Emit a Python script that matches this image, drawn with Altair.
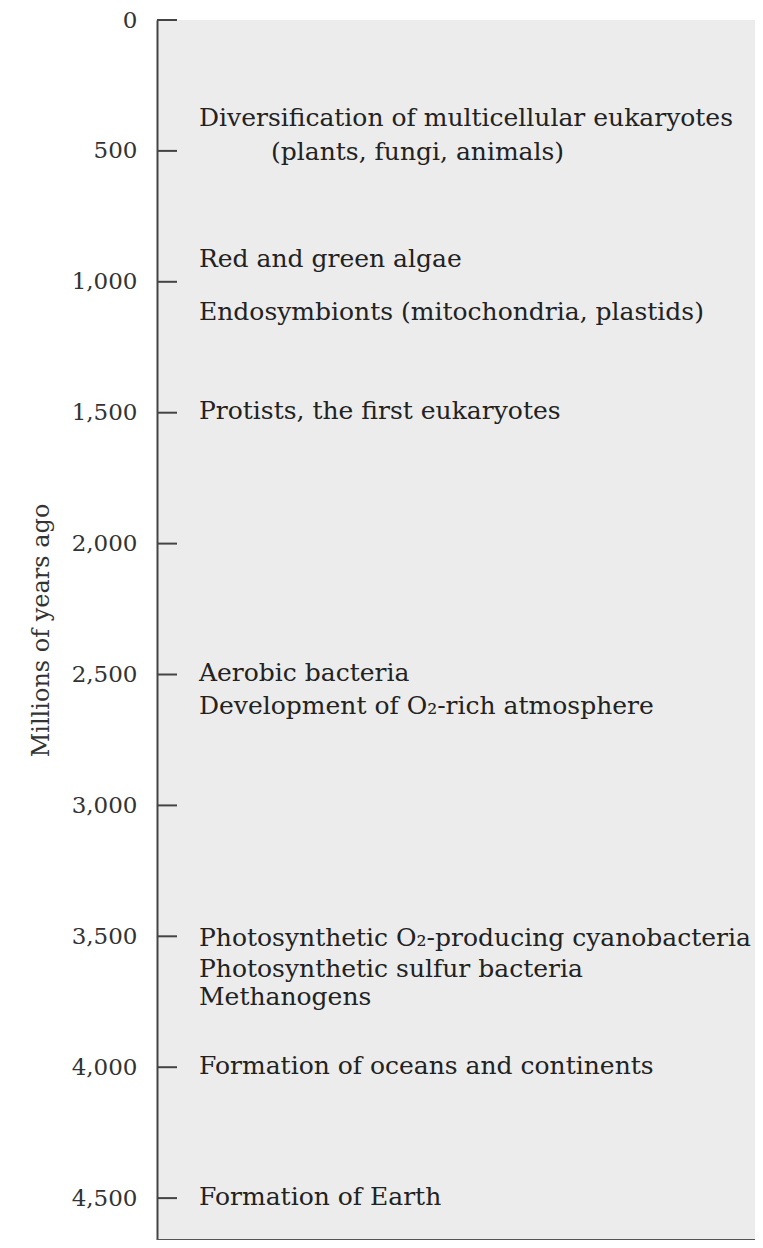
import altair as alt
import pandas as pd

# --- data -----------------------------------------------------------------
event_labels = [
    "Diversification of multicellular eukaryotes",
    "(plants, fungi, animals)",
    "Red and green algae",
    "Endosymbionts (mitochondria, plastids)",
    "Protists, the first eukaryotes",
    "Aerobic bacteria",
    "Development of O\u2082-rich atmosphere",
    "Photosynthetic O\u2082-producing cyanobacteria",
    "Photosynthetic sulfur bacteria",
    "Methanogens",
    "Formation of oceans and continents",
    "Formation of Earth",
]
event_mya = [375, 503, 911, 1117, 1495, 2494, 2620, 3505, 3623, 3733, 3997, 4496]
event_indent = [0, 72, 0, 0, 0, 0, 0, 0, 0, 0, 0, 0]

tick_values = [0, 500, 1000, 1500, 2000, 2500, 3000, 3500, 4000, 4500]
Y_MAX = 4660

events = pd.DataFrame({"label": event_labels, "mya": event_mya, "indent": event_indent})
ticks = pd.DataFrame({"mya": tick_values})

FONT = "DejaVu Serif"
W, H = 598, 1220

yscale = alt.Scale(domain=[0, Y_MAX], nice=False, zero=False, reverse=True)

base_axis = alt.Axis(
    values=tick_values,
    format=",d",
    title="Millions of years ago",
    titleFont=FONT,
    titleFontSize=24,
    titleFontWeight="normal",
    titleColor="#333",
    titlePadding=18,
    labelFont=FONT,
    labelFontSize=23,
    labelColor="#333",
    labelPadding=20,
    tickSize=0,
    ticks=False,
    grid=False,
    domain=True,
    domainColor="#444",
    domainWidth=2,
)

tick_rules = (
    alt.Chart(ticks)
    .mark_rule(color="#444", strokeWidth=2)
    .encode(
        y=alt.Y("mya:Q", scale=yscale, axis=base_axis),
        x=alt.value(0),
        x2=alt.value(20),
    )
)

bottom = (
    alt.Chart(ticks)
    .mark_rule(color="#555", strokeWidth=2)
    .encode(y=alt.datum(Y_MAX))
)

texts = (
    alt.Chart(events)
    .mark_text(
        align="left",
        baseline="middle",
        font=FONT,
        fontSize=25,
        color="#222",
        dx=42,
    )
    .encode(
        y=alt.Y("mya:Q", scale=yscale),
        x=alt.X("indent:Q", scale=alt.Scale(domain=[0, W], range=[0, W]), axis=None),
        text="label:N",
    )
)

chart = (
    alt.layer(tick_rules, bottom, texts)
    .properties(
        width=W,
        height=H,
        autosize=alt.AutoSizeParams(type="none"),
        padding={"left": 149, "top": 12, "right": 0, "bottom": 0},
        background="white",
    )
    .configure_view(fill="#ececec", stroke=None)
)

chart.save("out.html", embed_options={"renderer": "svg", "actions": False})
